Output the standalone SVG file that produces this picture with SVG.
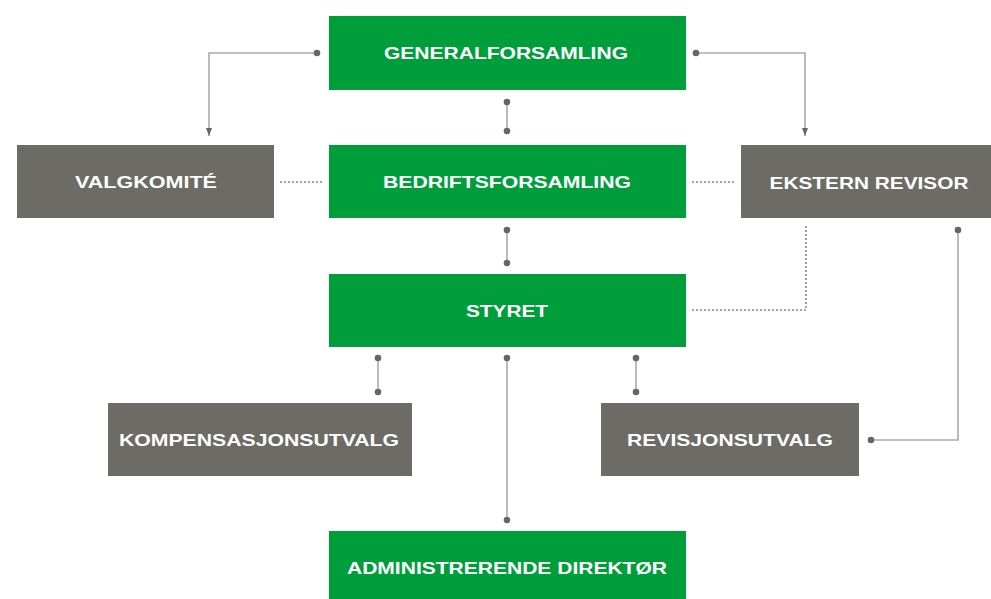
<svg xmlns="http://www.w3.org/2000/svg" width="991" height="599" viewBox="0 0 991 599">
<defs>
<style>
.g{fill:#009E3B}
.k{fill:#6C6B66}
.t{fill:#fff;font-family:"Liberation Sans",Arial,sans-serif;font-weight:bold;font-size:16.5px;text-anchor:middle}
.ln{stroke:#AAAAAA;stroke-width:1.6;fill:none}
.dt{stroke:#888;stroke-width:1.6;fill:none;stroke-dasharray:2 2}
.d{fill:#666}
</style>
<marker id="ah" viewBox="0 0 8 6" refX="8" refY="3" markerWidth="8" markerHeight="6" markerUnits="userSpaceOnUse" orient="auto">
<path d="M0,0 L8,3 L0,6 Z" fill="#666"/>
</marker>
</defs>
<rect width="991" height="599" fill="#fff"/>
<g id="connectors">
<path class="ln" d="M317,53 H209 V136" marker-end="url(#ah)"/>
<path class="ln" d="M696,53 H805 V136" marker-end="url(#ah)"/>
<path class="ln" d="M507,102 V131"/>
<path class="ln" d="M507,230 V263"/>
<path class="ln" d="M378,358 V392"/>
<path class="ln" d="M636,358 V392"/>
<path class="ln" d="M507,358 V520"/>
<path class="ln" d="M958,230 V440 H871"/>
<path class="dt" d="M280,182 H323"/>
<path class="dt" d="M692,182 H734"/>
<path class="dt" d="M806,226 V310 H692"/>
<circle class="d" cx="317" cy="53" r="3.3"/>
<circle class="d" cx="696" cy="53" r="3.3"/>
<circle class="d" cx="507" cy="102" r="3.3"/>
<circle class="d" cx="507" cy="131" r="3.3"/>
<circle class="d" cx="507" cy="230" r="3.3"/>
<circle class="d" cx="507" cy="263" r="3.3"/>
<circle class="d" cx="378" cy="358" r="3.3"/>
<circle class="d" cx="378" cy="392" r="3.3"/>
<circle class="d" cx="636" cy="358" r="3.3"/>
<circle class="d" cx="636" cy="392" r="3.3"/>
<circle class="d" cx="507" cy="358" r="3.3"/>
<circle class="d" cx="507" cy="520" r="3.3"/>
<circle class="d" cx="958" cy="230" r="3.3"/>
<circle class="d" cx="871" cy="440" r="3.3"/>
</g>
<g id="generalforsamling"><rect class="g" x="329" y="16" width="357" height="74"/><text class="t" x="506" y="59" textLength="244" lengthAdjust="spacingAndGlyphs">GENERALFORSAMLING</text></g>
<g id="bedriftsforsamling"><rect class="g" x="329" y="145" width="357" height="73"/><text class="t" x="507" y="188" textLength="248" lengthAdjust="spacingAndGlyphs">BEDRIFTSFORSAMLING</text></g>
<g id="valgkomite"><rect class="k" x="17" y="145" width="257" height="73"/><text class="t" x="146" y="188" textLength="142" lengthAdjust="spacingAndGlyphs">VALGKOMITÉ</text></g>
<g id="ekstern-revisor"><rect class="k" x="741" y="145" width="254" height="73"/><text class="t" x="869" y="189" textLength="199" lengthAdjust="spacingAndGlyphs">EKSTERN REVISOR</text></g>
<g id="styret"><rect class="g" x="329" y="274" width="357" height="73"/><text class="t" x="507" y="317" textLength="82" lengthAdjust="spacingAndGlyphs">STYRET</text></g>
<g id="kompensasjonsutvalg"><rect class="k" x="108" y="403" width="304" height="73"/><text class="t" x="259" y="446" textLength="280" lengthAdjust="spacingAndGlyphs">KOMPENSASJONSUTVALG</text></g>
<g id="revisjonsutvalg"><rect class="k" x="601" y="403" width="258" height="73"/><text class="t" x="730" y="446" textLength="206" lengthAdjust="spacingAndGlyphs">REVISJONSUTVALG</text></g>
<g id="administrerende-direktor"><rect class="g" x="329" y="531" width="357" height="74"/><text class="t" x="507" y="574" textLength="320" lengthAdjust="spacingAndGlyphs">ADMINISTRERENDE DIREKTØR</text></g>
</svg>
